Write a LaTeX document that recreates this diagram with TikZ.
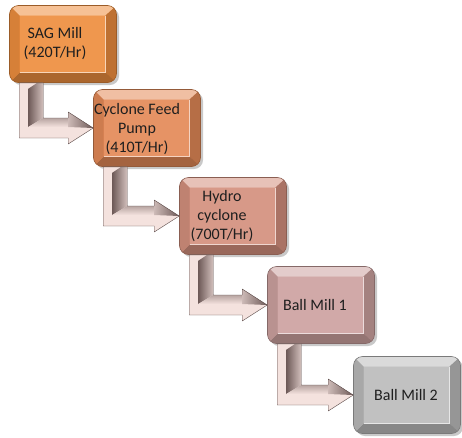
\documentclass[tikz,border=0pt]{standalone}
\usepackage{fontspec}
\setmainfont{Carlito}
\usetikzlibrary{calc,shadows}
\definecolor{cA}{HTML}{EE8E3E}
\definecolor{cB}{HTML}{E48A58}
\definecolor{cC}{HTML}{D4907E}
\definecolor{cD}{HTML}{CDA2A0}
\definecolor{cE}{HTML}{BBBBBB}
\definecolor{arrL}{HTML}{F4E2DE}
\definecolor{arrD}{HTML}{6E5A58}
\newcommand\bentarrow[2]{%
  \fill[arrL] let \p1=(#1.south west), \p2=(#2.west) in
    (\x1+10pt,\y1) -- (\x1+34pt,\y1) -- (\x1+34pt,\y2+10pt) -- (\x2-25pt,\y2+10pt)
    -- (\x2-25pt,\y2+16pt) -- (\x2,\y2) -- (\x2-25pt,\y2-16pt) -- (\x2-25pt,\y2-10pt)
    -- (\x1+10pt,\y2-10pt) -- cycle;
  \shade[left color=arrD, right color=arrD!25!arrL] let \p1=(#1.south west), \p2=(#2.west) in
    (\x1+19pt,\y1-6pt) -- (\x1+28pt,\y1) -- (\x1+34pt,\y1) -- (\x1+34pt,\y2+10pt) -- (\x1+19pt,\y2+1pt) -- cycle;
  \shade[top color=arrD!45!arrL, bottom color=arrL] let \p1=(#1.south west), \p2=(#2.west) in
    (\x1+19pt,\y2+1pt) -- (\x1+34pt,\y2+10pt) -- (\x2-25pt,\y2+10pt) -- (\x2-25pt,\y2+1pt) -- cycle;
  \shade[left color=arrD!30!arrL, right color=arrD] let \p1=(#1.south west), \p2=(#2.west) in
    (\x2-25pt,\y2+16pt) -- (\x2,\y2) -- (\x2-25pt,\y2+1pt) -- cycle;
  \draw[arrD!80!black, line width=0.4pt, line join=round] let \p1=(#1.south west), \p2=(#2.west) in
    (\x1+10pt,\y1) -- (\x1+34pt,\y1) -- (\x1+34pt,\y2+10pt) -- (\x2-25pt,\y2+10pt)
    -- (\x2-25pt,\y2+16pt) -- (\x2,\y2) -- (\x2-25pt,\y2-16pt) -- (\x2-25pt,\y2-10pt)
    -- (\x1+10pt,\y2-10pt) -- cycle;
}
\begin{document}
\begin{tikzpicture}[x=1pt,y=-1pt,
  boxtext/.style={align=center, inner sep=0pt, font=\fontsize{16}{19}\selectfont, text=black!88},
  box/.style={rounded corners=9pt, minimum width=107pt, minimum height=77pt,
    inner sep=0pt, fill=#1, draw=#1!65!black, line width=0.6pt,
    drop shadow={shadow xshift=2.5pt, shadow yshift=-2.5pt, opacity=0.3, fill=black!70},
    path picture={
      \fill[sharp corners, #1!55!white] (path picture bounding box.north west) -- (path picture bounding box.north east)
        -- ([xshift=-11pt,yshift=-10pt]path picture bounding box.north east) -- ([xshift=10pt,yshift=-10pt]path picture bounding box.north west) -- cycle;
      \fill[sharp corners, #1!80!black] (path picture bounding box.north east) -- (path picture bounding box.south east)
        -- ([xshift=-11pt,yshift=10pt]path picture bounding box.south east) -- ([xshift=-11pt,yshift=-10pt]path picture bounding box.north east) -- cycle;
      \fill[sharp corners, #1!72!black] (path picture bounding box.south west) -- (path picture bounding box.south east)
        -- ([xshift=-11pt,yshift=10pt]path picture bounding box.south east) -- ([xshift=10pt,yshift=10pt]path picture bounding box.south west) -- cycle;
      \fill[sharp corners, #1!90!black] (path picture bounding box.south west) -- (path picture bounding box.north west)
        -- ([xshift=10pt,yshift=-10pt]path picture bounding box.north west) -- ([xshift=10pt,yshift=10pt]path picture bounding box.south west) -- cycle;
      \fill[sharp corners, #1!92!white] ([xshift=10pt,yshift=-10pt]path picture bounding box.north west) rectangle ([xshift=-11pt,yshift=10pt]path picture bounding box.south east);
      \draw[sharp corners, white, opacity=0.6, line width=0.6pt] ([xshift=10pt,yshift=10pt]path picture bounding box.south west) -- ([xshift=-11pt,yshift=10pt]path picture bounding box.south east) -- ([xshift=-11pt,yshift=-10pt]path picture bounding box.north east);
      \draw[sharp corners, white, opacity=0.7, line width=1.2pt] ([yshift=-8pt]path picture bounding box.north east) -- ([yshift=8pt]path picture bounding box.south east);
    }},
]
\useasboundingbox (0,0) rectangle (462,437);
\node[box=cA] (b1) at (63,44) {};
\node[box=cB] (b2) at (147,128) {};
\node[box=cC] (b3) at (233,216) {};
\node[box=cD] (b4) at (321,305) {};
\node[box=cE] (b5) at (407,395) {};
\node[boxtext] (t1) at ([xshift=-8pt]b1.center) {SAG Mill\\(420T/Hr)};
\node[boxtext] (t2) at ([xshift=-10pt,yshift=-1pt]b2.center) {Cyclone Feed\\Pump\\(410T/Hr)};
\node[boxtext] (t3) at ([xshift=-11pt]b3.center) {Hydro\\cyclone\\(700T/Hr)};
\node[boxtext] (t4) at ([xshift=-6pt]b4.center) {Ball Mill 1};
\node[boxtext] (t5) at ([xshift=-1pt]b5.center) {Ball Mill 2};
\bentarrow{b1}{b2}
\bentarrow{b2}{b3}
\bentarrow{b3}{b4}
\bentarrow{b4}{b5}
\end{tikzpicture}
\end{document}
